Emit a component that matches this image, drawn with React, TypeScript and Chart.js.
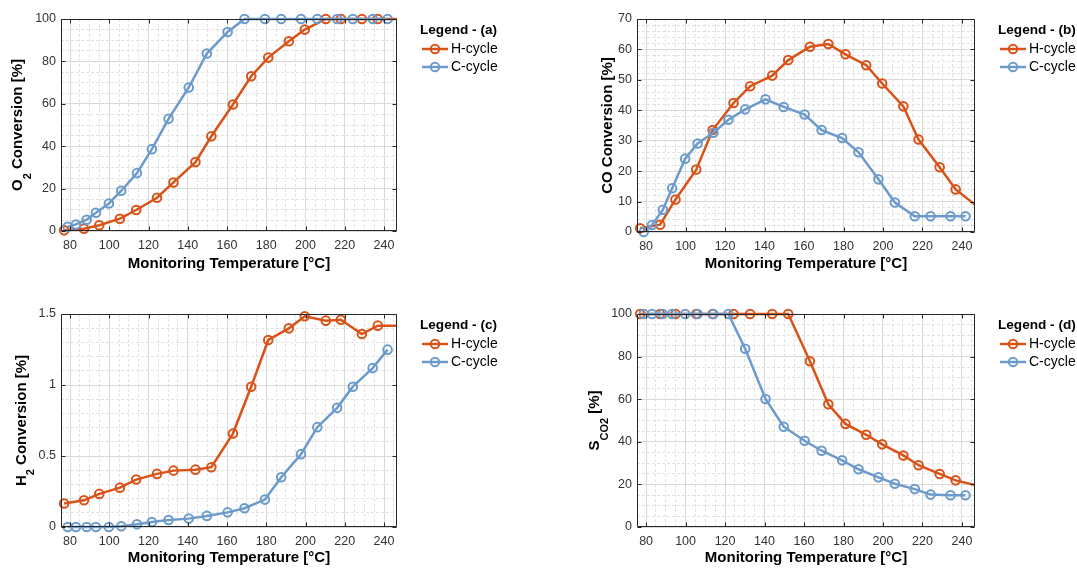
import React, { useEffect, useRef } from 'react';
import { Chart, registerables } from 'chart.js';

Chart.register(...registerables);

// ---------- data ----------
const seriesNames = ['H-cycle', 'C-cycle'];
const hTemp = [77, 87.1, 94.9, 105.4, 113.7, 124.3, 132.7, 143.9, 152.0, 163.0, 172.3, 181.0, 191.5, 199.6, 210.3, 218.0, 228.7, 236.8, 247.5];
const cTemp = [78.8, 83.0, 88.5, 93.2, 99.8, 106.1, 114.1, 121.7, 130.2, 140.5, 149.7, 160.3, 168.9, 179.3, 187.6, 197.7, 206.0, 216.1, 224.1, 234.2, 241.8];

const o2H = [0.3, 1.1, 2.7, 5.8, 9.9, 15.7, 22.9, 32.5, 44.7, 59.7, 73.0, 81.8, 89.5, 95.0, 100, 100, 100, 100, 100];
const o2C = [2.0, 3.1, 5.3, 8.6, 13.0, 19.0, 27.3, 38.6, 52.9, 67.7, 83.7, 93.9, 100, 100, 100, 100, 100, 100, 100, 100, 100];

const coH = [1.2, 2.4, 10.7, 20.5, 33.5, 42.4, 47.9, 51.4, 56.5, 60.9, 61.8, 58.4, 54.8, 48.8, 41.3, 30.4, 21.3, 14.0, 8.5];
const coC = [0, 2.3, 7.3, 14.4, 24.1, 29.1, 32.6, 36.9, 40.3, 43.6, 41.1, 38.6, 33.5, 30.9, 26.2, 17.3, 9.7, 5.2, 5.2, 5.2, 5.2];

const h2H = [0.165, 0.188, 0.233, 0.277, 0.334, 0.374, 0.397, 0.404, 0.421, 0.658, 0.988, 1.317, 1.399, 1.484, 1.453, 1.46, 1.359, 1.418, 1.418];
const h2C = [0, 0, 0, 0, 0, 0.005, 0.019, 0.035, 0.049, 0.059, 0.078, 0.103, 0.132, 0.193, 0.35, 0.513, 0.703, 0.839, 0.988, 1.119, 1.249];

const sH = [100, 100, 100, 100, 100, 100, 100, 100, 100, 77.8, 57.6, 48.4, 43.3, 38.8, 33.6, 29.0, 24.9, 21.9, 19.5];
const sC = [100, 100, 100, 100, 100, 100, 100, 100, 83.7, 60.1, 47.1, 40.5, 35.8, 31.3, 27.1, 23.3, 20.3, 17.8, 15.2, 14.9, 14.9];

const xTicks = [80, 100, 120, 140, 160, 180, 200, 220, 240];
const o2Ticks = [0, 20, 40, 60, 80, 100];
const coTicks = [0, 10, 20, 30, 40, 50, 60, 70];
const h2Ticks = [0, 0.5, 1, 1.5];
const sTicks = [0, 20, 40, 60, 80, 100];

const xTitle = 'Monitoring Temperature [°C]';
const legendTitles = ['Legend - (a)', 'Legend - (b)', 'Legend - (c)', 'Legend - (d)'];

// ---------- style ----------
const X_MIN = 75.4;
const X_MAX = 246.6;
const H_COLOR = '#D95319';
const C_COLOR = '#6C9BCB';
const FONT = '"Liberation Sans", Arial, Helvetica, sans-serif';
const AXIS_COLOR = '#262626';
const TICK_COLOR = '#333333';
const GRID_MAJOR = '#d9d9d9';
const GRID_MINOR = '#e2e2e2';

type Seg = { t: string; sub?: boolean };

interface PanelSpec {
  left: number;
  top: number;
  width: number;
  height: number;
  area: { l: number; r: number; t: number; b: number };
  hY: number[];
  cY: number[];
  yTicks: number[];
  yMinorStep: number;
  yTitle: Seg[];
  yTitleOffset: number;
  xTitleCenter: number;
  legendTitle: string;
}

const panels: PanelSpec[] = [
  {
    left: 0, top: 0, width: 540, height: 284,
    area: { l: 61, r: 397, t: 19, b: 231 },
    hY: o2H, cY: o2C, yTicks: o2Ticks, yMinorStep: 5,
    yTitle: [{ t: 'O' }, { t: '2', sub: true }, { t: ' Conversion [%]' }],
    yTitleOffset: 42.7, xTitleCenter: 264, legendTitle: legendTitles[0],
  },
  {
    left: 540, top: 0, width: 537, height: 284,
    area: { l: 637, r: 975, t: 19, b: 232 },
    hY: coH, cY: coC, yTicks: coTicks, yMinorStep: 2,
    yTitle: [{ t: 'CO Conversion [%]' }],
    yTitleOffset: 28.7, xTitleCenter: 264, legendTitle: legendTitles[1],
  },
  {
    left: 0, top: 284, width: 540, height: 284,
    area: { l: 61, r: 397, t: 314, b: 527 },
    hY: h2H, cY: h2C, yTicks: h2Ticks, yMinorStep: 0.1,
    yTitle: [{ t: 'H' }, { t: '2', sub: true }, { t: ' Conversion [%]' }],
    yTitleOffset: 39.3, xTitleCenter: 558, legendTitle: legendTitles[2],
  },
  {
    left: 540, top: 284, width: 537, height: 284,
    area: { l: 637, r: 975, t: 314, b: 527 },
    hY: sH, cY: sC, yTicks: sTicks, yMinorStep: 5,
    yTitle: [{ t: 'S' }, { t: 'CO2', sub: true }, { t: ' [%]' }],
    yTitleOffset: 42, xTitleCenter: 558, legendTitle: legendTitles[3],
  },
];

function makeDecor(spec: PanelSpec) {
  return {
    id: 'decor',
    afterDraw(chart: any) {
      const ctx: CanvasRenderingContext2D = chart.ctx;
      const { left, right, top, bottom } = chart.chartArea;
      const xs = chart.scales.x;
      const ys = chart.scales.y;
      ctx.save();
      // box
      ctx.strokeStyle = AXIS_COLOR;
      ctx.lineWidth = 1;
      const L = Math.round(left) + 0.5;
      const R = Math.round(right) - 0.5;
      const T = Math.round(top) + 0.5;
      const B = Math.round(bottom) - 0.5;
      ctx.beginPath();
      ctx.rect(L, T, R - L, B - T);
      ctx.stroke();
      // inner tick marks
      const tl = 4;
      ctx.beginPath();
      for (const v of xTicks) {
        const px = Math.round(xs.getPixelForValue(v)) + 0.5;
        ctx.moveTo(px, B); ctx.lineTo(px, B - tl);
        ctx.moveTo(px, T); ctx.lineTo(px, T + tl);
      }
      for (const v of spec.yTicks) {
        const py = Math.round(ys.getPixelForValue(v)) + 0.5;
        ctx.moveTo(L, py); ctx.lineTo(L + tl, py);
        ctx.moveTo(R, py); ctx.lineTo(R - tl, py);
      }
      ctx.stroke();

      // y title with subscripts
      const mainFont = `bold 15px ${FONT}`;
      const subFont = `bold 11px ${FONT}`;
      const cx = left - spec.yTitleOffset;
      const cy = (top + bottom) / 2;
      ctx.translate(cx, cy);
      ctx.rotate(-Math.PI / 2);
      ctx.textBaseline = 'middle';
      ctx.textAlign = 'left';
      ctx.fillStyle = '#000';
      let total = 0;
      const widths = spec.yTitle.map((s) => {
        ctx.font = s.sub ? subFont : mainFont;
        const w = ctx.measureText(s.t).width;
        total += w;
        return w;
      });
      let x = -total / 2;
      spec.yTitle.forEach((s, i) => {
        ctx.font = s.sub ? subFont : mainFont;
        ctx.fillText(s.t, x, s.sub ? 9.5 : 0);
        x += widths[i];
      });
      ctx.setTransform(1, 0, 0, 1, 0, 0);

      // legend
      const lx = right;
      ctx.textBaseline = 'middle';
      ctx.textAlign = 'left';
      ctx.fillStyle = '#000';
      ctx.font = `bold 13.6px ${FONT}`;
      ctx.fillText(spec.legendTitle, lx + 23, top + 11);
      chart.data.datasets.forEach((ds: any, i: number) => {
        const y = top + 30 + i * 18;
        ctx.strokeStyle = ds.borderColor;
        ctx.lineWidth = 2.5;
        ctx.beginPath();
        ctx.moveTo(lx + 25, y);
        ctx.lineTo(lx + 51, y);
        ctx.stroke();
        ctx.lineWidth = 2;
        ctx.beginPath();
        ctx.arc(lx + 38, y, 4.2, 0, Math.PI * 2);
        ctx.stroke();
        ctx.fillStyle = '#000';
        ctx.font = `14px ${FONT}`;
        ctx.fillText(ds.label, lx + 54, y);
      });
      ctx.restore();
    },
  };
}

function Panel({ spec }: { spec: PanelSpec }) {
  const ref = useRef<HTMLCanvasElement>(null);
  useEffect(() => {
    const canvas = ref.current;
    if (!canvas) return;
    const aL = spec.area.l - spec.left;
    const aR = spec.area.r - spec.left;
    const aT = spec.area.t - spec.top;
    const aB = spec.area.b - spec.top;
    const yMin = spec.yTicks[0];
    const yMax = spec.yTicks[spec.yTicks.length - 1];
    const minorX: number[] = [];
    for (let v = 75; v <= X_MAX; v += 5) if (v >= X_MIN) minorX.push(v);
    const minorY: number[] = [];
    for (let k = 0; yMin + k * spec.yMinorStep <= yMax + 1e-9; k++) minorY.push(+(yMin + k * spec.yMinorStep).toFixed(4));
    const titleLH = 18;
    const xTitlePadBottom = spec.height - (spec.xTitleCenter - spec.top) - titleLH / 2;

    const radius = (c: any) => (c.raw && c.raw.x > X_MAX ? 0 : 4.3);
    const common = {
      borderWidth: 2.5,
      pointRadius: radius,
      pointHoverRadius: radius,
      pointBorderWidth: 2,
      pointBackgroundColor: 'rgba(255,255,255,0)',
      pointStyle: 'circle',
      tension: 0,
      fill: false,
      clip: { left: 12, top: 12, right: 0, bottom: 12 },
    };

    const chart = new Chart(canvas, {
      type: 'line',
      data: {
        datasets: [
          {
            ...common,
            label: seriesNames[0],
            data: hTemp.map((x, i) => ({ x, y: spec.hY[i] })),
            borderColor: H_COLOR,
            pointBorderColor: H_COLOR,
            order: 1,
          },
          {
            ...common,
            label: seriesNames[1],
            data: cTemp.map((x, i) => ({ x, y: spec.cY[i] })),
            borderColor: C_COLOR,
            pointBorderColor: C_COLOR,
            order: 0,
          },
        ],
      } as any,
      options: {
        responsive: false,
        animation: false,
        devicePixelRatio: 1,
        events: [],
        layout: { padding: { left: 0, top: aT, right: spec.width - aR, bottom: 0 } },
        plugins: { legend: { display: false }, tooltip: { enabled: false } },
        scales: {
          xm: {
            type: 'linear', position: 'bottom', min: X_MIN, max: X_MAX, bounds: 'data', z: -1,
            afterFit: (s: any) => { s.height = 0; },
            afterBuildTicks: (s: any) => { s.ticks = minorX.map((value) => ({ value })); },
            ticks: { display: false },
            grid: { color: GRID_MINOR, drawTicks: false, lineWidth: 1 },
            border: { display: false, dash: [3, 2] },
          },
          ym: {
            type: 'linear', position: 'left', min: yMin, max: yMax, bounds: 'data', z: -1,
            afterFit: (s: any) => { s.width = 0; },
            afterBuildTicks: (s: any) => { s.ticks = minorY.map((value) => ({ value })); },
            ticks: { display: false },
            grid: { color: GRID_MINOR, drawTicks: false, lineWidth: 1 },
            border: { display: false, dash: [3, 2] },
          },
          x: {
            type: 'linear', position: 'bottom', min: X_MIN, max: X_MAX, bounds: 'data',
            afterFit: (s: any) => { s.height = spec.height - aB; },
            afterBuildTicks: (s: any) => { s.ticks = xTicks.map((value) => ({ value })); },
            ticks: {
              font: { family: FONT, size: 12.5 }, color: TICK_COLOR, padding: 7,
              maxRotation: 0, autoSkip: false, callback: (v: any) => String(v),
            },
            grid: { color: GRID_MAJOR, drawTicks: false, lineWidth: 1 },
            border: { display: false },
            title: {
              display: true, text: xTitle, color: '#000',
              font: { family: FONT, size: 15, weight: 'bold', lineHeight: 1.2 },
              padding: { top: 0, bottom: xTitlePadBottom },
            },
          },
          y: {
            type: 'linear', position: 'left', min: yMin, max: yMax, bounds: 'data',
            afterFit: (s: any) => { s.width = aL; },
            afterBuildTicks: (s: any) => { s.ticks = spec.yTicks.map((value) => ({ value })); },
            ticks: {
              font: { family: FONT, size: 12.5 }, color: TICK_COLOR, padding: 5,
              autoSkip: false, callback: (v: any) => String(v),
            },
            grid: { color: GRID_MAJOR, drawTicks: false, lineWidth: 1 },
            border: { display: false },
          },
        },
      } as any,
      plugins: [makeDecor(spec)],
    });
    return () => chart.destroy();
  }, [spec]);
  return (
    <canvas
      ref={ref}
      width={spec.width}
      height={spec.height}
      style={{ position: 'absolute', left: spec.left, top: spec.top, width: spec.width, height: spec.height, display: 'block' }}
    />
  );
}

export default function App() {
  return (
    <div style={{ position: 'absolute', left: 0, top: 0, width: 1077, height: 568, background: '#fff', overflow: 'hidden' }}>
      {panels.map((p, i) => (
        <Panel key={i} spec={p} />
      ))}
    </div>
  );
}
